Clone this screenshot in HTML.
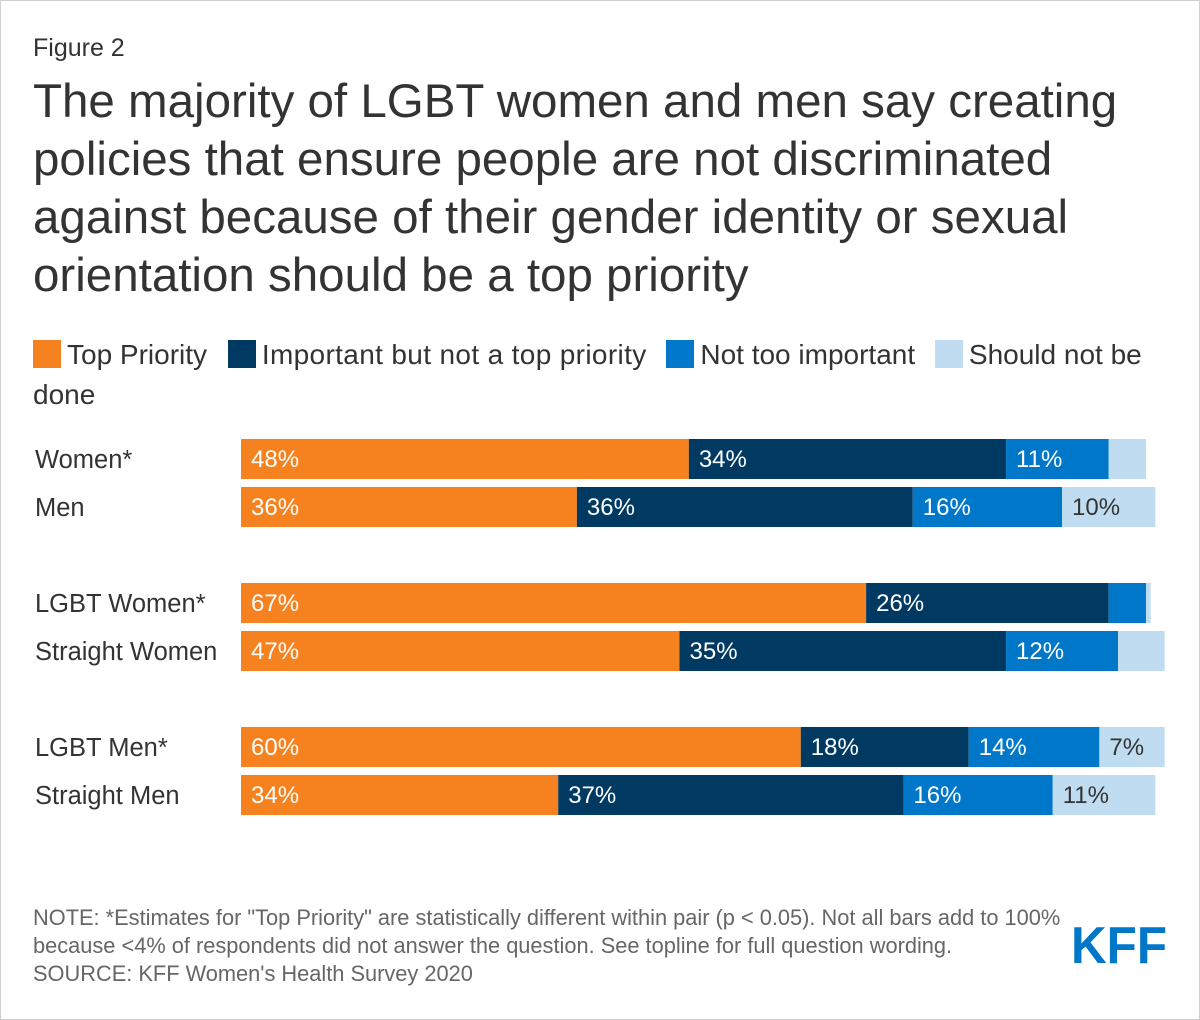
<!DOCTYPE html>
<html><head><meta charset="utf-8"><style>
body{margin:0;background:#fff;font-family:"Liberation Sans",Arial,sans-serif;color:#333}
#wrap{position:relative;width:1198px;height:1018px;border:1px solid #d0d0d0;overflow:hidden}
.t{position:absolute;white-space:nowrap}
</style></head><body>
<div id="wrap">
<div class="t" style="left:32px;top:33px;font-size:25px">Figure 2</div>
<div class="t" style="left:32px;top:72px;font-size:47.5px;line-height:58px;color:#333">The majority of LGBT women and men say creating<br>policies that ensure people are not discriminated<br>against because of their gender identity or sexual<br>orientation should be a top priority</div>
<div style="position:absolute;left:32px;top:334px;font-size:28px;width:1150px;line-height:40px">
<span><span style="display:inline-block;width:28px;height:28px;background:#f5821f;vertical-align:-4px;margin-right:6px"></span>Top Priority</span>
<span style="margin-left:13px"><span style="display:inline-block;width:28px;height:28px;background:#003a63;vertical-align:-4px;margin-right:6px"></span><span style="letter-spacing:0.35px">Important but not a top priority</span></span>
<span style="margin-left:12px"><span style="display:inline-block;width:28px;height:28px;background:#0077c8;vertical-align:-4px;margin-right:6px"></span>Not too important</span>
<span style="margin-left:12px"><span style="display:inline-block;width:28px;height:28px;background:#bfdcf0;vertical-align:-4px;margin-right:6px"></span>Should not be done</span>
</div>
<svg id="chart" width="1198" height="1018" style="position:absolute;left:0;top:0" font-family="Liberation Sans, Arial, sans-serif"></svg>
<div class="t" style="left:32px;top:903px;font-size:21.8px;line-height:28px;color:#666">NOTE: *Estimates for "Top Priority" are statistically different within pair (p &lt; 0.05). Not all bars add to 100%<br>because &lt;4% of respondents did not answer the question. See topline for full question wording.<br>SOURCE: KFF Women's Health Survey 2020</div>
<svg class="t" style="left:1070px;top:918px" width="98" height="48"><text x="0" y="44" font-size="52" font-weight="bold" fill="#0077c8" textLength="96" lengthAdjust="spacingAndGlyphs" font-family="Liberation Sans, Arial, sans-serif">KFF</text></svg>
</div>
<script>
const categories=["Women*","Men","LGBT Women*","Straight Women","LGBT Men*","Straight Men"];
const topPriority=[48,36,67,47,60,34];
const importantNotTop=[34,36,26,35,18,37];
const notTooImportant=[11,16,4,12,14,16];
const shouldNotBeDone=[4,10,0.5,5,7,11];
const series=[topPriority,importantNotTop,notTooImportant,shouldNotBeDone];
const seriesNames=["top-priority","important-not-top","not-too-important","should-not-be-done"];
const colors=["#f5821f","#003a63","#0077c8","#bfdcf0"];
const textColors=["#fff","#fff","#fff","#333"];
const rowY=[438,486,582,630,726,774];
const x0=240,pxPer=9.33,barH=40;
const xs=v=>v*pxPer;
const svg=document.getElementById('chart');
const NS='http://www.w3.org/2000/svg';
categories.forEach((c,i)=>{
  const y=rowY[i];
  const lab=document.createElementNS(NS,'text');
  lab.setAttribute('x',34);lab.setAttribute('y',y+29);lab.setAttribute('font-size','25.5');lab.setAttribute('fill','#333');
  lab.textContent=c;
  
  
  svg.appendChild(lab);
  let x=x0;
  series.forEach((s,k)=>{
    const w=xs(s[i]);
    const r=document.createElementNS(NS,'rect');
    r.setAttribute('x',x);r.setAttribute('y',y);r.setAttribute('width',w);r.setAttribute('height',barH);r.setAttribute('fill',colors[k]);
    
    
    svg.appendChild(r);
    if(s[i]>=6){
      const t=document.createElementNS(NS,'text');
      t.setAttribute('x',x+10);t.setAttribute('y',y+28);t.setAttribute('font-size','24');t.setAttribute('fill',textColors[k]);
      t.textContent=s[i]+'%';
      
      
      svg.appendChild(t);
    }
    x+=w;
  });
});
</script>
</body></html>
